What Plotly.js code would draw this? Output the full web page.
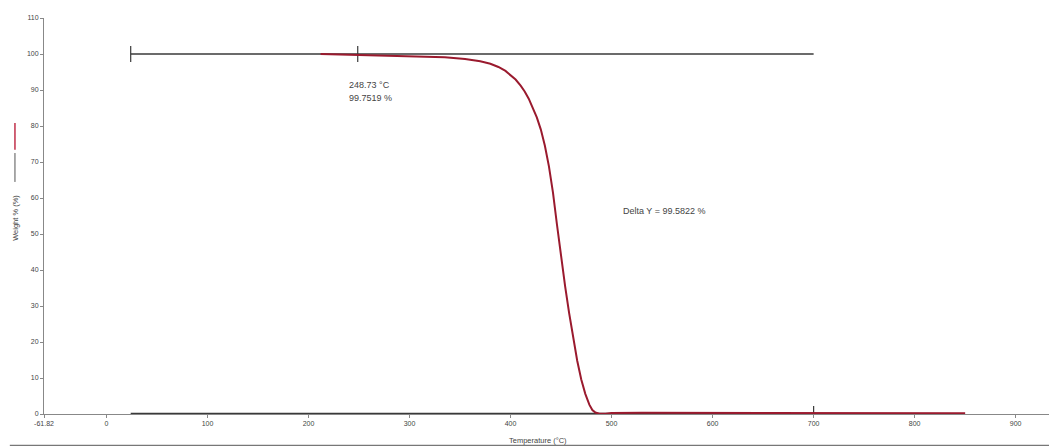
<!DOCTYPE html>
<html>
<head>
<meta charset="utf-8">
<script src="https://cdn.plot.ly/plotly-3.0.1.min.js"></script>
<style>
  html, body { margin: 0; padding: 0; background: #fff; }
  #chart { width: 1049px; height: 446px; }
</style>
</head>
<body>
<div id="chart"></div>
<script>
// TGA weight-loss curve (temperature °C, weight %)
const temperature = [212, 230, 248.73, 280, 310, 335, 355, 370, 380, 388, 395, 400, 405, 410, 414, 418, 422, 426, 430, 434, 438, 442, 446, 450, 454, 458, 462, 466, 470, 474, 478, 481, 484, 488, 494, 500, 530, 570, 620, 680, 750, 850];
const weight = [100.02, 99.9, 99.75, 99.6, 99.4, 99.1, 98.6, 98.0, 97.3, 96.4, 95.3, 94.2, 92.9, 91.2, 89.6, 87.6, 85.2, 82.4, 79.0, 74.5, 68.8, 61.5, 52.5, 43.5, 35.5, 28.0, 21.0, 14.8, 9.6, 5.6, 2.6, 1.1, 0.4, 0.1, 0.1, 0.3, 0.35, 0.35, 0.3, 0.3, 0.25, 0.2];

// Step-change analysis (Delta Y)
const stepTemps = [24, 700];
const stepUpper = 100.0;
const stepLowerTemps = [24, 655];
const stepLower = 0.15;
const onsetPoint = {t: 248.73, w: 99.7519};
const deltaY = 99.5822;

// Axis ticks
const xTickVals = [-61.82, 0, 100, 200, 300, 400, 500, 600, 700, 800, 900];
const xTickText = ["-61.82", "0", "100", "200", "300", "400", "500", "600", "700", "800", "900"];
const yTickVals = [0, 10, 20, 30, 40, 50, 60, 70, 80, 90, 100, 110];

const darkLine = '#3a3a3a';
const traces = [
  { x: stepTemps, y: [stepUpper, stepUpper], mode: 'lines', line: {color: darkLine, width: 1.6}, hoverinfo: 'skip' },
  { x: stepLowerTemps, y: [stepLower, stepLower], mode: 'lines', line: {color: darkLine, width: 1.6}, hoverinfo: 'skip' },
  { x: [stepTemps[0], stepTemps[0]], y: [stepUpper - 2.2, stepUpper + 2.2], mode: 'lines', line: {color: darkLine, width: 1.2}, hoverinfo: 'skip' },
  { x: [onsetPoint.t, onsetPoint.t], y: [stepUpper - 2.2, stepUpper + 2.2], mode: 'lines', line: {color: darkLine, width: 1.2}, hoverinfo: 'skip' },
  { x: [stepTemps[1], stepTemps[1]], y: [0, 2.2], mode: 'lines', line: {color: darkLine, width: 1.2}, hoverinfo: 'skip' },
  { x: temperature, y: weight, mode: 'lines', line: {color: '#9a1a2e', width: 2}, hoverinfo: 'skip' }
];

const tickFont = {family: 'Liberation Sans, Arial, sans-serif', size: 7, color: '#444'};
const titleFont = {family: 'Liberation Sans, Arial, sans-serif', size: 7.5, color: '#444'};
const textFont = {family: 'Liberation Sans, Arial, sans-serif', size: 9, color: '#444'};

const layout = {
  width: 1049, height: 446,
  margin: {l: 44, r: 0, t: 18, b: 32},
  paper_bgcolor: '#fff', plot_bgcolor: '#fff',
  showlegend: false,
  xaxis: {
    range: [-61.82, 933], tickmode: 'array', tickvals: xTickVals, ticktext: xTickText,
    showgrid: false, zeroline: false, showline: true, linecolor: '#888', linewidth: 1,
    ticks: 'outside', ticklen: 3, tickcolor: '#888', tickfont: tickFont
  },
  yaxis: {
    range: [0, 110], tickmode: 'array', tickvals: yTickVals,
    showgrid: false, zeroline: false, showline: true, linecolor: '#888', linewidth: 1,
    ticks: 'outside', ticklen: 3, tickcolor: '#888', tickfont: tickFont
  },
  annotations: [
    { xref: 'x', yref: 'y', x: onsetPoint.t - 11, y: 91.3, xanchor: 'left', yanchor: 'middle', showarrow: false,
      text: onsetPoint.t.toFixed(2) + ' °C', font: textFont },
    { xref: 'x', yref: 'y', x: onsetPoint.t - 11, y: 87.9, xanchor: 'left', yanchor: 'middle', showarrow: false,
      text: onsetPoint.w.toFixed(4) + ' %', font: textFont },
    { xref: 'x', yref: 'y', x: 509, y: 56.3, xanchor: 'left', yanchor: 'middle', showarrow: false,
      text: 'Delta Y = ' + deltaY.toFixed(4) + ' %', font: textFont },
    { xref: 'paper', yref: 'paper', x: 0.492, y: -0.066, xanchor: 'center', yanchor: 'middle', showarrow: false,
      text: 'Temperature (°C)', font: titleFont },
    { xref: 'paper', yref: 'paper', x: -0.028, y: 0.495, xanchor: 'center', yanchor: 'middle', showarrow: false,
      textangle: -90, text: 'Weight % (%)', font: titleFont }
  ],
  shapes: [
    { type: 'line', xref: 'paper', yref: 'paper', x0: -0.0289, x1: -0.0289, y0: 0.735, y1: 0.667, line: {color: '#c0304a', width: 1.5} },
    { type: 'line', xref: 'paper', yref: 'paper', x0: -0.0289, x1: -0.0289, y0: 0.659, y1: 0.586, line: {color: '#555', width: 1} },
    { type: 'line', xref: 'paper', yref: 'paper', x0: -0.034, x1: 1.0, y0: -0.0795, y1: -0.0795, line: {color: '#777', width: 1.5} }
  ]
};

Plotly.newPlot('chart', traces, layout, {staticPlot: true, displayModeBar: false});
</script>
</body>
</html>
